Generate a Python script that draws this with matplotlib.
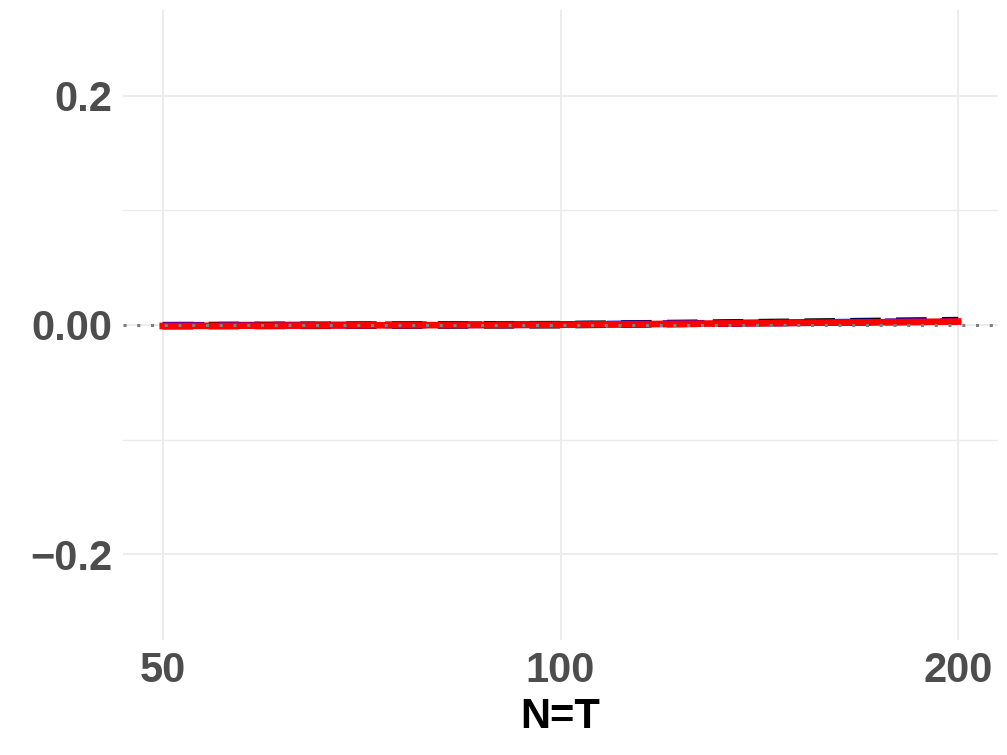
import matplotlib
matplotlib.use("Agg")
import matplotlib.pyplot as plt
import numpy as np

# Data
n_t = [50, 100, 200]
series_black = [-0.0006, 0.0003, 0.0038]
series_blue = [-0.0004, 0.0004, 0.0032]
series_red = [-0.0008, 0.0002, 0.0030]
y_ticks = [-0.2, 0.0, 0.2]
y_labels = ["\u22120.2", "0.00", "0.2"]
x_labels = ["50", "100", "200"]

plt.rcParams['font.family'] = ['Liberation Sans', 'DejaVu Sans']

fig = plt.figure(figsize=(10.07, 7.55), dpi=100)
ax = fig.add_axes([123/1007, 1-640/755, (998-123)/1007, (640-10)/755])

ax.set_xscale('log', base=2)
lx = np.log2(50), np.log2(200)
pad = (lx[1]-lx[0])*0.05
ax.set_xlim(2**(lx[0]-pad), 2**(lx[1]+pad))
ax.set_ylim(-0.275, 0.275)

ax.set_xticks(n_t)
ax.set_xticklabels(x_labels)
ax.xaxis.set_minor_locator(matplotlib.ticker.NullLocator())
ax.set_yticks(y_ticks)
ax.set_yticklabels(y_labels)
ax.set_yticks([-0.1, 0.1], minor=True)

grid_col = '#EBEBEB'
ax.grid(True, which='major', color=grid_col, linewidth=1.3)
ax.grid(True, which='minor', axis='y', color=grid_col, linewidth=1.0)
ax.set_axisbelow(True)
for s in ax.spines.values():
    s.set_visible(False)
ax.tick_params(which='both', length=0)
ax.tick_params(axis='both', labelsize=30, labelcolor='#4D4D4D', pad=8)
for lab in ax.get_xticklabels() + ax.get_yticklabels():
    lab.set_fontweight('bold')

ax.plot(n_t, series_black, color='black', linewidth=5.5, linestyle=(0, (4, 2)), solid_capstyle='butt', zorder=3)
ax.plot(n_t, series_blue, color='blue', linewidth=5, linestyle=(0, (6, 2)), zorder=4)
ax.plot(n_t, series_red, color='red', linewidth=4.8, linestyle='-', zorder=5)
ax.axhline(0, color='#7F7F7F', linewidth=2.2, linestyle=(0, (1, 3.5)), zorder=6)

ax.set_xlabel("N=T", fontsize=30, fontweight='bold', color='black', labelpad=4)

fig.savefig("out.png", dpi=100)
